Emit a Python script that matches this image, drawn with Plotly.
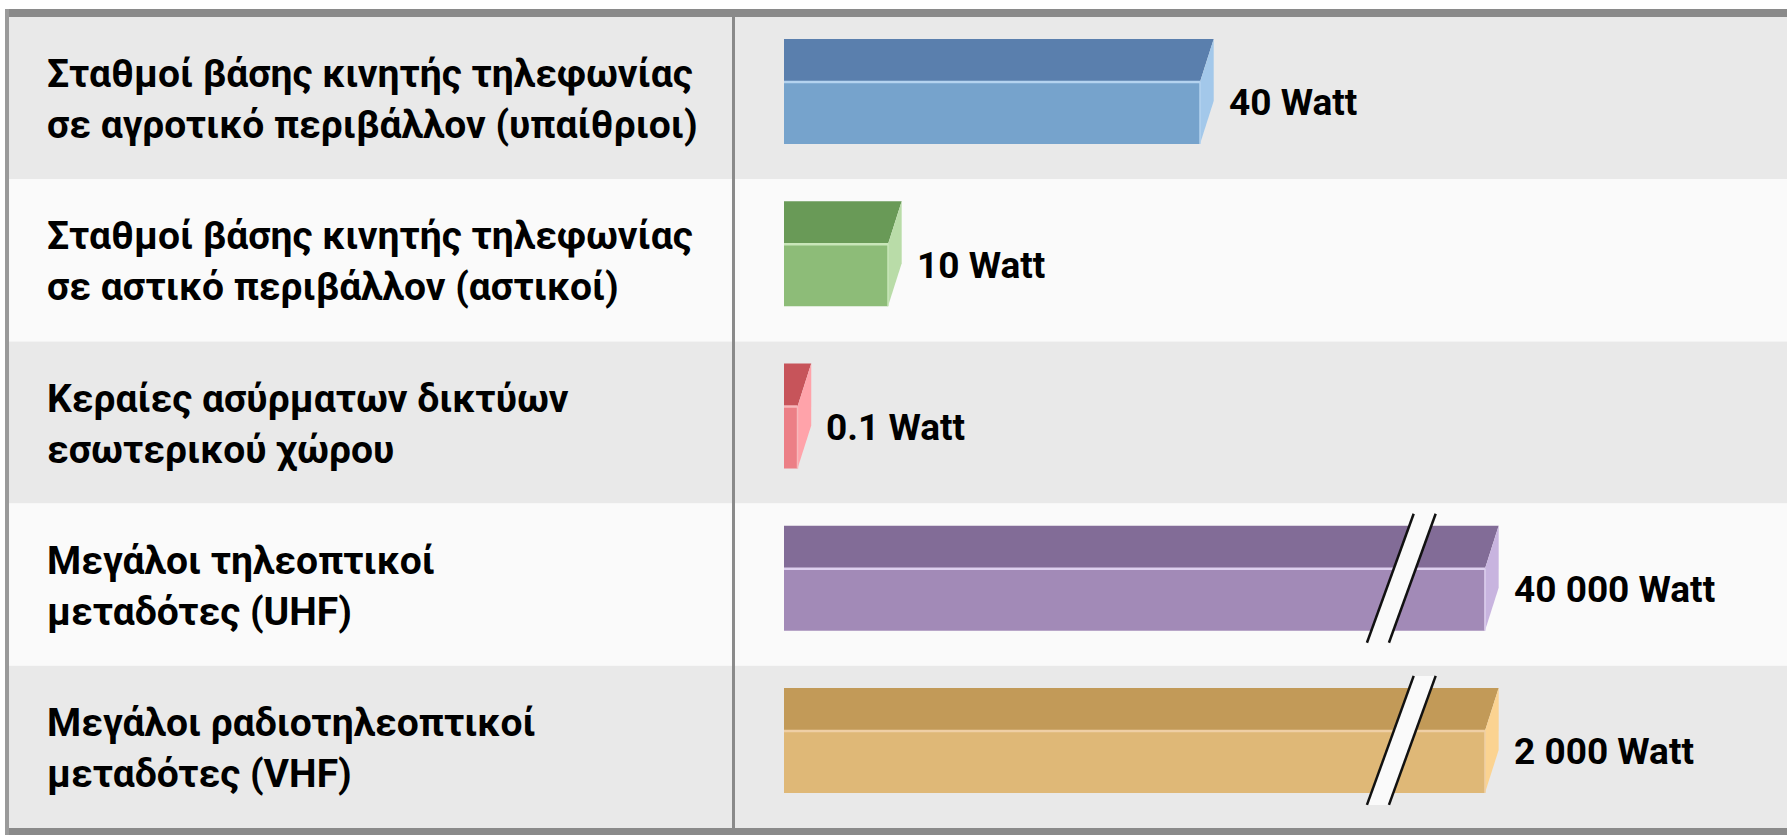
import plotly.graph_objects as go

# ---- data ----------------------------------------------------------------
categories = [
    "Σταθμοί βάσης κινητής τηλεφωνίας<br>σε αγροτικό περιβάλλον (υπαίθριοι)",
    "Σταθμοί βάσης κινητής τηλεφωνίας<br>σε αστικό περιβάλλον (αστικοί)",
    "Κεραίες ασύρματων δικτύων<br>εσωτερικού χώρου",
    "Μεγάλοι τηλεοπτικοί<br>μεταδότες (UHF)",
    "Μεγάλοι ραδιοτηλεοπτικοί<br>μεταδότες (VHF)",
]
power_watt = [40, 10, 0.1, 40000, 2000]
value_labels = ["40 Watt", "10 Watt", "0.1 Watt", "40 000 Watt", "2 000 Watt"]

# ---- styling ---------------------------------------------------------------
W, H = 1787, 836
FONT = "Roboto, Liberation Sans, Arial, sans-serif"

# face colours per bar: top, front, side, seam highlight
palette = [
    ("#5a7fad", "#76a3cc", "#a3c8ea", "#b4d3ef"),
    ("#699a57", "#8dbc78", "#b9dca8", "#c9e6b9"),
    ("#c7545a", "#ec7f86", "#ffa3aa", "#f7b8bb"),
    ("#826c97", "#a28ab7", "#c8b4df", "#ddd0ee"),
    ("#c29a58", "#dfb877", "#fbd391", "#efcfa5"),
]
ROW_GREY, ROW_WHITE = "#e9e9e9", "#fafafa"
BORDER = "#8a8a8a"

# horizontal scale: watts -> pixels, with the axis broken beyond AXIS_CAP
PX_PER_W = 10.4
X0_PX = 784                 # pixel column of zero watts
AXIS_CAP = 67.4             # longest drawable bar (broken-axis bars stop here)
MIN_VISIBLE = 1.3           # thinnest bar that still reads as a box
BREAK_AT = 58.3             # where the break marks cross the long bars

# vertical scale: rows are category indices, table spans pixels 17..828
TOP_PX, BOT_PX = 17, 828
PX_PER_ROW = (BOT_PX - TOP_PX) / len(categories)
y_top_range = -0.5 - TOP_PX / PX_PER_ROW
y_bot_range = len(categories) - 0.5 + (H - BOT_PX) / PX_PER_ROW
x_left_range = -X0_PX / PX_PER_W
x_right_range = (W - X0_PX) / PX_PER_W

DEPTH_X = 13.7 / PX_PER_W        # 3-D depth offset in watts
DEPTH_Y = 43 / PX_PER_ROW        # 3-D depth offset in row units
BAR_H = 105 / PX_PER_ROW
BAR_SHIFT = -0.04


def px(x):
    return x / W


def py(y):
    return 1 - y / H


fig = go.Figure()
shapes = []

# alternating row bands
for i in range(len(categories)):
    shapes.append(dict(type="rect", xref="paper", yref="y", x0=px(5), x1=1,
                       y0=i - 0.5, y1=i + 0.5, line_width=0, layer="below",
                       fillcolor=ROW_GREY if i % 2 == 0 else ROW_WHITE))

# table frame and column divider
shapes += [
    dict(type="rect", xref="paper", yref="paper", x0=px(5), x1=1, y0=py(17), y1=py(9),
         fillcolor=BORDER, line_width=0),
    dict(type="rect", xref="paper", yref="paper", x0=px(5), x1=1, y0=py(835), y1=py(828),
         fillcolor=BORDER, line_width=0),
    dict(type="rect", xref="paper", yref="paper", x0=px(5), x1=px(9), y0=py(835), y1=py(9),
         fillcolor="#9a9a9a", line_width=0),
    dict(type="rect", xref="paper", yref="paper", x0=px(732), x1=px(735), y0=py(828), y1=py(17),
         fillcolor=BORDER, line_width=0),
]


def poly(xs, ys, color):
    fig.add_trace(go.Scatter(x=xs + [xs[0]], y=ys + [ys[0]], mode="lines", fill="toself",
                             fillcolor=color, line=dict(width=0, color=color),
                             hoverinfo="skip", showlegend=False))


def line(xs, ys, color, width):
    fig.add_trace(go.Scatter(x=xs, y=ys, mode="lines", line=dict(color=color, width=width),
                             hoverinfo="skip", showlegend=False))


annotations = []
for i, (label, val, txt) in enumerate(zip(categories, power_watt, value_labels)):
    top, front, side, seam = palette[i]
    length = min(max(val, MIN_VISIBLE), AXIS_CAP)
    yc = i + BAR_SHIFT
    y_top = yc - BAR_H / 2
    y_mid = y_top + DEPTH_Y
    y_bot = yc + BAR_H / 2

    # top face, front face, side face
    poly([0, length + DEPTH_X, length, 0], [y_top, y_top, y_mid, y_mid], top)
    poly([0, length, length, 0], [y_mid, y_mid, y_bot, y_bot], front)
    poly([length, length + DEPTH_X, length + DEPTH_X, length],
         [y_mid, y_top, y_bot - DEPTH_Y, y_bot], side)
    line([0, length], [y_mid, y_mid], seam, 2.5)
    line([length, length], [y_mid, y_bot], seam, 1.5)

    # break marks on bars that run past the axis cap
    if val > AXIS_CAP:
        gap = 22 / PX_PER_W
        slope = -5.65
        ext = 12 / PX_PER_ROW
        ya, yb = y_top - ext, y_bot + ext
        ym = (y_top + y_bot) / 2
        xa1 = BREAK_AT + slope * (ya - ym)
        xb1 = BREAK_AT + slope * (yb - ym)
        poly([xa1, xa1 + gap, xb1 + gap, xb1], [ya, ya, yb, yb], "#fafafa")
        line([xa1, xb1], [ya, yb], "#111111", 2.5)
        line([xa1 + gap, xb1 + gap], [ya, yb], "#111111", 2.5)

    # category text
    annotations.append(dict(xref="paper", yref="y", x=px(45), y=i + 0.01,
                            xanchor="left", yanchor="middle", align="left",
                            text=label, showarrow=False,
                            font=dict(family=FONT, size=39, color="#000000", weight="bold")))
    # value text
    annotations.append(dict(xref="x", yref="y", x=length + DEPTH_X, y=i + 0.03,
                            xshift=13, xanchor="left", yanchor="middle",
                            text=txt, showarrow=False,
                            font=dict(family=FONT, size=37, color="#000000", weight="bold")))

fig.update_layout(
    width=W, height=H,
    margin=dict(l=0, r=0, t=0, b=0),
    paper_bgcolor="#ffffff", plot_bgcolor="rgba(0,0,0,0)",
    xaxis=dict(range=[x_left_range, x_right_range], visible=False, fixedrange=True),
    yaxis=dict(range=[y_bot_range, y_top_range], visible=False, fixedrange=True),
    shapes=shapes, annotations=annotations, showlegend=False,
)

fig.write_html("out.html")
